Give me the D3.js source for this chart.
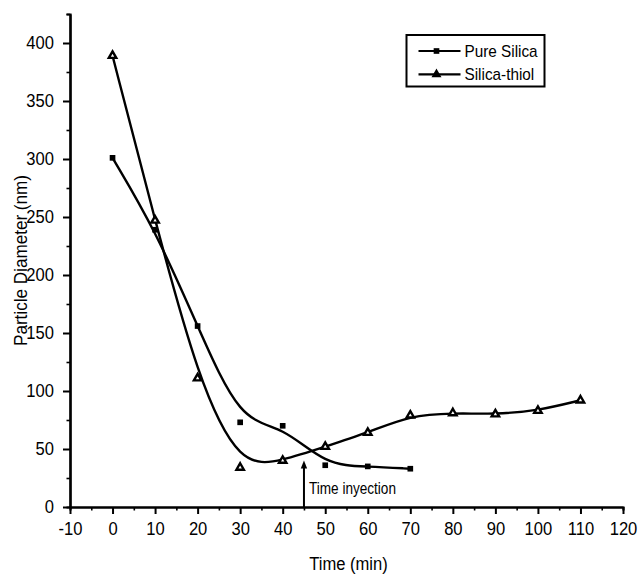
<!DOCTYPE html>
<html>
<head>
<meta charset="utf-8">
<script src="https://cdn.jsdelivr.net/npm/d3@7"></script>
<style>
  body { margin: 0; background: #fff; }
  svg text { font-family: "Liberation Sans", Arial, sans-serif; fill: #000; }
</style>
</head>
<body>
<div id="chart"></div>
<script>
// time points (min)
var pureTime = [0, 10, 20, 30, 40, 50, 60, 70];
var pureSize = [301, 239, 156, 73, 70, 36, 35, 33];
var thiolTime = [0, 10, 20, 30, 40, 50, 60, 70, 80, 90, 100, 110];
var thiolSize = [389, 247, 111, 34, 40, 52, 64, 79, 81, 80, 83, 92];
var seriesNames = ["Pure Silica", "Silica-thiol"];
var xTicks = [-10, 0, 10, 20, 30, 40, 50, 60, 70, 80, 90, 100, 110, 120];
var yTicks = [0, 50, 100, 150, 200, 250, 300, 350, 400];
var injection = {time: 45, tip: 40, label: "Time inyection"};

var W = 639, H = 575;
var margin = {top: 14, right: 16, bottom: 68, left: 70},
    width = W - margin.left - margin.right,
    height = H - margin.top - margin.bottom;

var x = d3.scaleLinear().domain([-10, 120]).range([0, width]);
var y = d3.scaleLinear().domain([0, 425]).range([height, 0]);

var svg = d3.select("#chart").append("svg")
    .attr("width", W)
    .attr("height", H)
  .append("g")
    .attr("transform", "translate(" + margin.left + "," + margin.top + ")");

// squeeze a text a little, the original fonts are narrow
function narrow(sel, k) {
  sel.each(function() {
    var w = this.getComputedTextLength();
    d3.select(this).attr("textLength", w * k).attr("lengthAdjust", "spacingAndGlyphs");
  });
}

// minor ticks first, then the major axis on top
svg.append("g")
    .attr("class", "minor")
    .attr("transform", "translate(0," + height + ")")
    .call(d3.axisBottom(x).tickValues(d3.range(-5, 120, 10)).tickSize(3.5).tickFormat(""));
svg.append("g")
    .attr("class", "minor")
    .call(d3.axisLeft(y).tickValues(d3.range(25, 426, 50)).tickSize(3.5).tickFormat(""));

var xAxis = svg.append("g")
    .attr("transform", "translate(0," + height + ")")
    .call(d3.axisBottom(x).tickValues(xTicks).tickSize(7).tickSizeOuter(0).tickPadding(8)
      .tickFormat(function(d) { return String(d); }));
var yAxis = svg.append("g")
    .call(d3.axisLeft(y).tickValues(yTicks).tickSize(7).tickSizeOuter(0).tickPadding(9));

svg.selectAll(".domain").attr("stroke-width", 2.2);
svg.selectAll(".tick line").attr("stroke-width", 2);
svg.selectAll(".minor .tick line").attr("stroke-width", 1.6);
svg.selectAll(".tick text").style("font-size", "18px").call(narrow, 0.92);

// axis titles
svg.append("text")
    .attr("x", width / 2 + 2)
    .attr("y", height + 63)
    .attr("text-anchor", "middle")
    .style("font-size", "18px")
    .text("Time (min)")
    .call(narrow, 0.92);

svg.append("text")
    .attr("transform", "translate(" + (21 - margin.left) + "," + (height / 2) + ") rotate(-90)")
    .attr("text-anchor", "middle")
    .attr("dy", "0.35em")
    .style("font-size", "18px")
    .text("Particle Diameter (nm)")
    .call(narrow, 0.95);

// smoothed lines
var line = d3.line()
    .x(function(d) { return x(d[0]); })
    .y(function(d) { return y(d[1]); })
    .curve(d3.curveBasis);

var pure = d3.zip(pureTime, pureSize);
var thiol = d3.zip(thiolTime, thiolSize);

[pure, thiol].forEach(function(data) {
  svg.append("path")
      .datum(data)
      .attr("fill", "none")
      .attr("stroke", "#000")
      .attr("stroke-width", 2.4)
      .attr("d", line);
});

var square = d3.symbol().type(d3.symbolSquare).size(32);
var tri = d3.symbol().type(d3.symbolTriangle).size(24);

svg.selectAll(".pt-pure").data(pure).enter().append("path")
    .attr("class", "pt-pure")
    .attr("transform", function(d) { return "translate(" + x(d[0]) + "," + y(d[1]) + ")"; })
    .attr("d", square)
    .attr("fill", "#000");

svg.selectAll(".pt-thiol").data(thiol).enter().append("path")
    .attr("class", "pt-thiol")
    .attr("transform", function(d) { return "translate(" + x(d[0]) + "," + y(d[1]) + ")"; })
    .attr("d", tri)
    .attr("fill", "#fff")
    .attr("stroke", "#000")
    .attr("stroke-width", 2.4);

// injection arrow
var ax = x(injection.time);
svg.append("line")
    .attr("x1", ax).attr("x2", ax)
    .attr("y1", y(0)).attr("y2", y(injection.tip) + 6)
    .attr("stroke", "#000")
    .attr("stroke-width", 2);
svg.append("path")
    .attr("d", "M" + ax + "," + y(injection.tip) + "L" + (ax - 3.2) + "," + (y(injection.tip) + 8) + "L" + (ax + 3.2) + "," + (y(injection.tip) + 8) + "Z")
    .attr("fill", "#000");
svg.append("text")
    .attr("x", ax + 5)
    .attr("y", height - 13)
    .attr("textLength", 87)
    .attr("lengthAdjust", "spacingAndGlyphs")
    .style("font-size", "16px")
    .text(injection.label);

// legend
var lg = svg.append("g").attr("transform", "translate(" + (406.5 - margin.left) + "," + (35 - margin.top) + ")");
lg.append("rect")
    .attr("width", 138).attr("height", 51.5)
    .attr("fill", "#fff")
    .attr("stroke", "#000")
    .attr("stroke-width", 2);
seriesNames.forEach(function(name, i) {
  var row = lg.append("g").attr("transform", "translate(0," + (16 + i * 23.3) + ")");
  row.append("line")
      .attr("x1", 12).attr("x2", 54)
      .attr("stroke", "#000").attr("stroke-width", 2.2);
  row.append("path")
      .attr("transform", "translate(30,0)")
      .attr("d", i === 0 ? square : tri)
      .attr("fill", "#000")
      .attr("stroke", i === 0 ? "none" : "#000")
      .attr("stroke-width", 1.5);
  row.append("text")
      .attr("x", 58)
      .attr("dy", "0.36em")
      .style("font-size", "17px")
      .text(name)
      .call(narrow, 0.9);
});
</script>
</body>
</html>
